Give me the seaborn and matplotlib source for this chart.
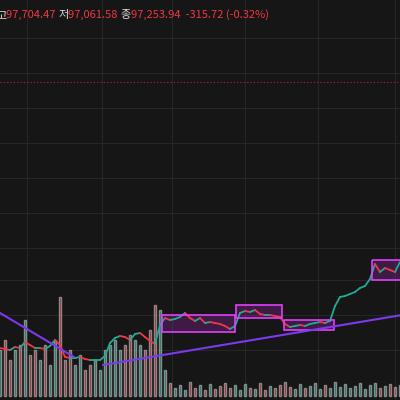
import numpy as np
import seaborn as sns
import matplotlib.pyplot as plt
from matplotlib.patches import Rectangle

t = list(range(0, 405, 5))
price = [348, 349, 350, 347, 348, 342, 345, 348, 348, 349, 346, 340, 345, 357, 358, 358, 357, 359, 360, 360,
         360, 356, 343, 338, 336, 337, 340, 334, 333, 337, 341, 344, 325, 318, 320, 319, 317, 313, 318, 321,
         318, 323, 322, 323, 324, 326, 329, 326, 313, 311, 312, 310, 314, 315, 315, 316, 317, 324, 327, 326,
         325, 326, 324, 323, 322, 323, 321, 306, 297, 296, 294, 292, 288, 286, 279, 264, 272, 268, 270, 272, 262]
vol_top = [350, 340, 360, 350, 345, 320, 355, 350, 360, 345, 365, 340, 297, 360, 350, 365, 355, 370, 365, 360,
           370, 350, 345, 340, 350, 345, 335, 340, 345, 350, 330, 305, 310, 370, 383, 388, 385, 390, 382, 388,
           385, 390, 384, 389, 386, 383, 388, 385, 390, 384, 388, 389, 383, 390, 386, 388, 385, 382, 387, 389,
           384, 388, 386, 383, 389, 385, 388, 382, 387, 384, 388, 386, 383, 389, 385, 383, 388, 386, 384, 387, 385]
boxes = [(162, 235, 315, 332), (236, 282, 305, 318), (284, 334, 320, 330), (372, 402, 260, 280)]
trend_lines = [((0, 74), (313, 357)), ((103, 402), (365, 315))]

up_col = "#22ab94"
dn_col = "#f23645"

sns.set_style("dark")
plt.rcParams['font.family'] = ['Noto Sans CJK KR', 'DejaVu Sans']
fig = plt.figure(figsize=(4, 4), dpi=100, facecolor="#161616")
ax = fig.add_axes([0, 0, 1, 1])
ax.set_facecolor("#161616")

# grid
for gx in [27, 102, 172, 245, 318, 395]:
    ax.axvline(gx, color="#262626", lw=0.8, zorder=0)
for gy in [38, 73, 108, 143, 178, 213, 248, 280, 315, 350]:
    ax.axhline(gy, color="#262626", lw=0.8, zorder=0)
ax.axhline(82, color="#c2185b", lw=0.8, ls=(0, (1, 2)), zorder=1)

# volume
cols = [up_col if i == 0 or price[i] <= price[i - 1] else dn_col for i in range(len(t))]
ax.bar(t, [v - 396 for v in vol_top], bottom=396, width=2.6, color=cols, alpha=0.45, zorder=2)

# price
for i in range(1, len(t)):
    c = up_col if price[i] <= price[i - 1] else dn_col
    sns.lineplot(x=t[i - 1:i + 1], y=price[i - 1:i + 1], ax=ax, color=c, lw=1.3, zorder=4)

for x0, x1, y0, y1 in boxes:
    ax.add_patch(Rectangle((x0, y0), x1 - x0, y1 - y0, fc="#9c27b0", alpha=0.3, ec="none", zorder=3))
    ax.add_patch(Rectangle((x0, y0), x1 - x0, y1 - y0, fc="none", ec="#e040fb", lw=1.2, zorder=5))
for xs, ys in trend_lines:
    ax.plot(xs, ys, color="#7c3aed", lw=1.5, zorder=5)

ax.set_xlim(0, 400)
ax.set_ylim(400, 0)
ax.axis("off")

# header
parts = [("고", "#dddddd"), ("97,704.47 ", dn_col), ("저", "#dddddd"), ("97,061.58 ", dn_col),
         ("종", "#dddddd"), ("97,253.94  -315.72 (-0.32%)", dn_col)]
xpos = -4
for s, c in parts:
    tx = ax.text(xpos, 15, s, color=c, fontsize=8, va="center", ha="left", zorder=6)
    fig.canvas.draw()
    bb = tx.get_window_extent().transformed(ax.transData.inverted())
    xpos = bb.x1

fig.savefig("out.png", dpi=100, facecolor=fig.get_facecolor())
